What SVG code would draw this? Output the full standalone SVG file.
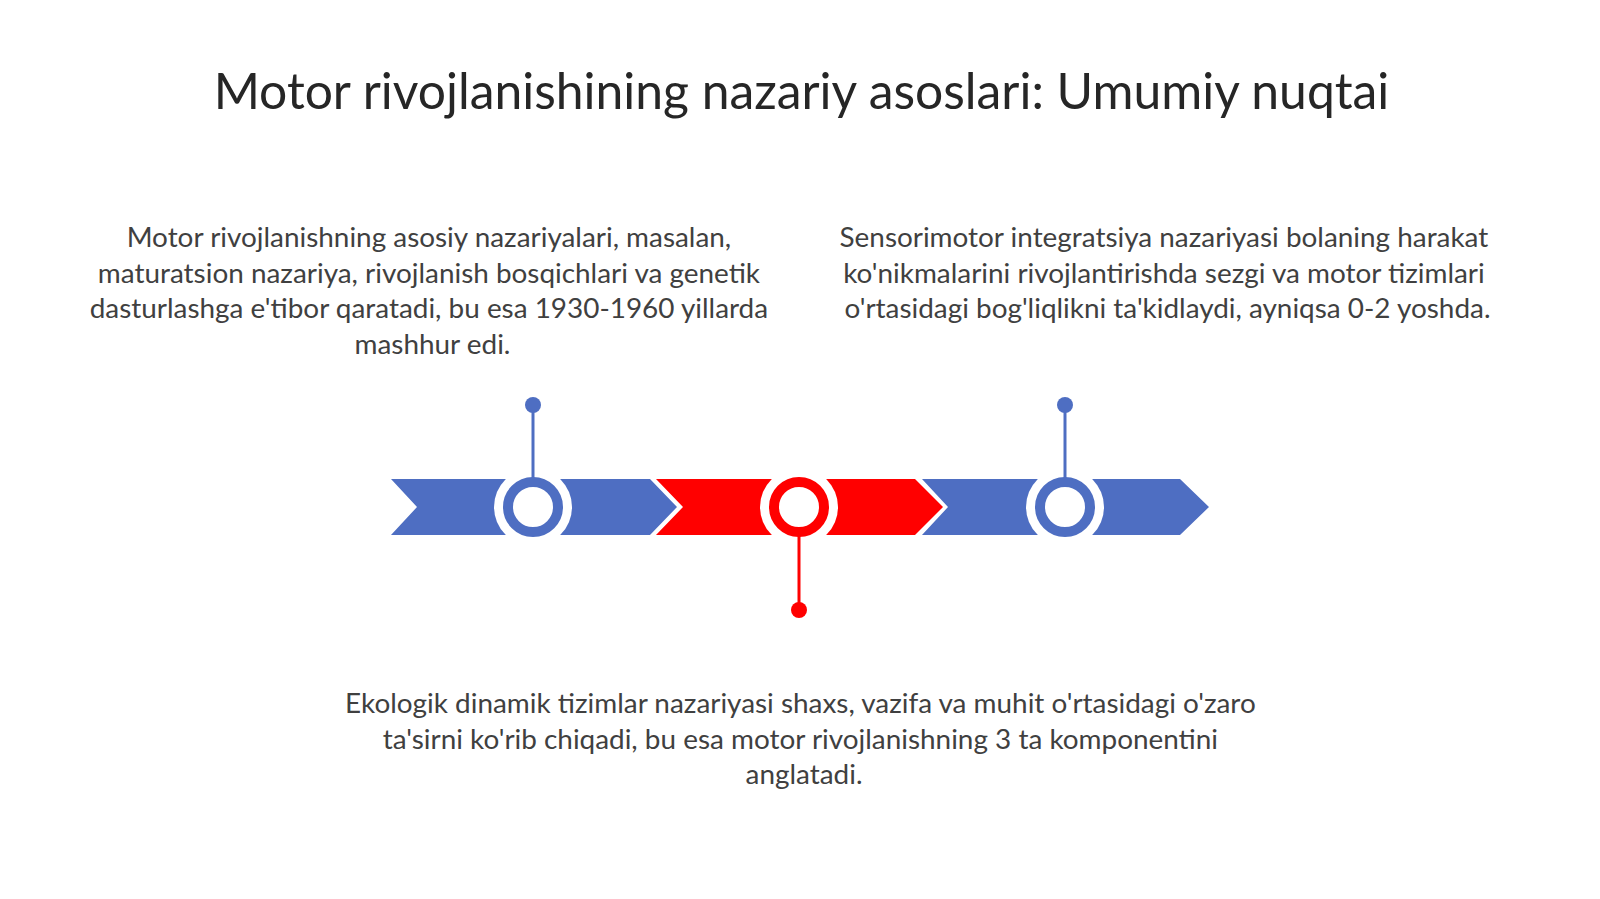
<svg xmlns="http://www.w3.org/2000/svg" width="1600" height="899" viewBox="0 0 1600 899">
<style>
.title{font-family:Lato,"Open Sans","Liberation Sans",sans-serif;font-size:49.8px;fill:#262626}
.body{font-family:Lato,"Open Sans","Liberation Sans",sans-serif;font-size:27.9px;fill:#404040}
.blue{fill:#4E6EC2}
.red{fill:#FF0000}
.halo{fill:#FFFFFF}
.ringB{fill:#FFFFFF;stroke:#4E6EC2;stroke-width:10}
.ringR{fill:#FFFFFF;stroke:#FF0000;stroke-width:10}
.stemB{stroke:#4E6EC2;stroke-width:3}
.stemR{stroke:#FF0000;stroke-width:3}
</style>
<rect width="1600" height="899" fill="#FFFFFF"/>
<g id="title">
<text class="title" x="801.5" y="109" text-anchor="middle">Motor rivojlanishining nazariy asoslari: Umumiy nuqtai</text>
</g>
<g id="timeline">
<polygon class="blue" points="391,479 650,479 677,507 650,535 391,535 417,507"/>
<polygon class="red" points="656,479 915,479 943,507 915,535 656,535 683,507"/>
<polygon class="blue" points="922,479 1180,479 1209,507 1180,535 922,535 948,507"/>
</g>
<g id="node1">
<circle class="halo" cx="533" cy="507" r="39"/>
<circle class="ringB" cx="533" cy="507" r="25"/>
</g>
<g id="node2">
<circle class="halo" cx="799" cy="507" r="39"/>
<circle class="ringR" cx="799" cy="507" r="25"/>
</g>
<g id="node3">
<circle class="halo" cx="1065" cy="507" r="39"/>
<circle class="ringB" cx="1065" cy="507" r="25"/>
</g>
<g id="connectors">
<line class="stemB" x1="533" y1="405" x2="533" y2="478"/>
<circle class="blue" cx="533" cy="405" r="8"/>
<line class="stemR" x1="799" y1="536" x2="799" y2="610"/>
<circle class="red" cx="799" cy="610" r="8"/>
<line class="stemB" x1="1065" y1="405" x2="1065" y2="478"/>
<circle class="blue" cx="1065" cy="405" r="8"/>
</g>
<g id="text1">
<text class="body" text-anchor="middle">
<tspan x="432.5" y="247">Motor rivojlanishning asosiy nazariyalari, masalan,</tspan>
<tspan x="432.5" y="282.5">maturatsion nazariya, rivojlanish bosqichlari va genetik</tspan>
<tspan x="432.5" y="318">dasturlashga e'tibor qaratadi, bu esa 1930-1960 yillarda</tspan>
<tspan x="432.5" y="353.5">mashhur edi.</tspan>
</text>
</g>
<g id="text2">
<text class="body" text-anchor="middle">
<tspan x="1167.5" y="247">Sensorimotor integratsiya nazariyasi bolaning harakat</tspan>
<tspan x="1167.5" y="282.5">ko'nikmalarini rivojlantirishda sezgi va motor tizimlari</tspan>
<tspan x="1167.5" y="318">o'rtasidagi bog'liqlikni ta'kidlaydi, ayniqsa 0-2 yoshda.</tspan>
</text>
</g>
<g id="text3">
<text class="body" text-anchor="middle">
<tspan x="804" y="713">Ekologik dinamik tizimlar nazariyasi shaxs, vazifa va muhit o'rtasidagi o'zaro</tspan>
<tspan x="804" y="748.5">ta'sirni ko'rib chiqadi, bu esa motor rivojlanishning 3 ta komponentini</tspan>
<tspan x="804" y="784">anglatadi.</tspan>
</text>
</g>
</svg>
